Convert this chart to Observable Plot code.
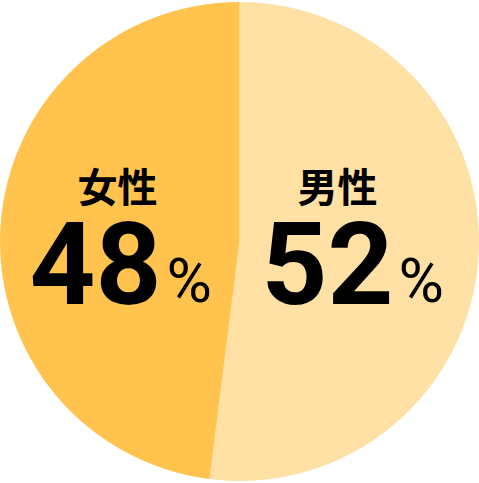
<!DOCTYPE html>
<html><head><meta charset="utf-8">
<script src="https://cdn.jsdelivr.net/npm/d3@7"></script>
<script src="https://cdn.jsdelivr.net/npm/@observablehq/plot@0.6"></script>
<style>body{margin:0;background:#fff;overflow:hidden}</style>
</head><body><div id="chart"></div>
<script>
const categories = ["男性", "女性"];
const values = [52, 48];
const colors = ["#FFE0A5", "#FFC34E"];

const W = 479, H = 483;
const layout = {
  "男性": {labelDx: -22, numDx: 34},
  "女性": {labelDx: -3, numDx: 41}
};

const rows = categories.map((c, i) => ({category: c, value: values[i]}));
const pie = d3.pie().sort(null).value(d => d.value)(rows);
const R = Math.min(W, H) / 2;
const arcGen = d3.arc().innerRadius(0).outerRadius(R);
const slices = pie.map(p => {
  const [cx] = arcGen.centroid(p);
  return {category: p.data.category, value: p.data.value, start: p.startAngle, end: p.endAngle, cx: W / 2 + cx, cy: H / 2};
});

function pieMark(data) {
  return (index, scales, values2, dims, context) => {
    const g = d3.create("svg:g");
    const arc = d3.arc().innerRadius(0).outerRadius(scales.x(R) - scales.x(0));
    g.selectAll("path").data(data).join("path")
      .attr("transform", `translate(${scales.x(W / 2)},${scales.y(H / 2)})`)
      .attr("d", d => arc({startAngle: d.start, endAngle: d.end}))
      .attr("fill", d => scales.color(d.category));
    return g.node();
  };
}

const chart = Plot.plot({
  width: W, height: H,
  margin: 0,
  x: {domain: [0, W], range: [0, W], axis: null},
  y: {domain: [0, H], range: [0, H], axis: null},
  color: {domain: categories, range: colors},
  marks: [
    pieMark(slices),
    Plot.text(slices, {
      x: d => d.cx + layout[d.category].labelDx, y: d => d.cy - 53,
      text: "category", fill: "#000", fontSize: 40, fontWeight: 700,
      fontFamily: "'Noto Sans CJK JP', sans-serif", textAnchor: "middle", lineAnchor: "middle"
    }),
    Plot.text(slices, {
      x: d => d.cx + layout[d.category].numDx, y: d => d.cy + 25,
      text: d => String(d.value), fill: "#000", fontSize: 115, fontWeight: 700,
      fontFamily: "Roboto, sans-serif", textAnchor: "end", lineAnchor: "middle"
    }),
    Plot.text(slices, {
      x: d => d.cx + layout[d.category].numDx + 5, y: d => d.cy + 40,
      text: d => "%", fill: "#000", fontSize: 62, fontWeight: 400,
      fontFamily: "Roboto, sans-serif", textAnchor: "start", lineAnchor: "middle"
    })
  ]
});
document.getElementById("chart").append(chart);
</script>
</body></html>
